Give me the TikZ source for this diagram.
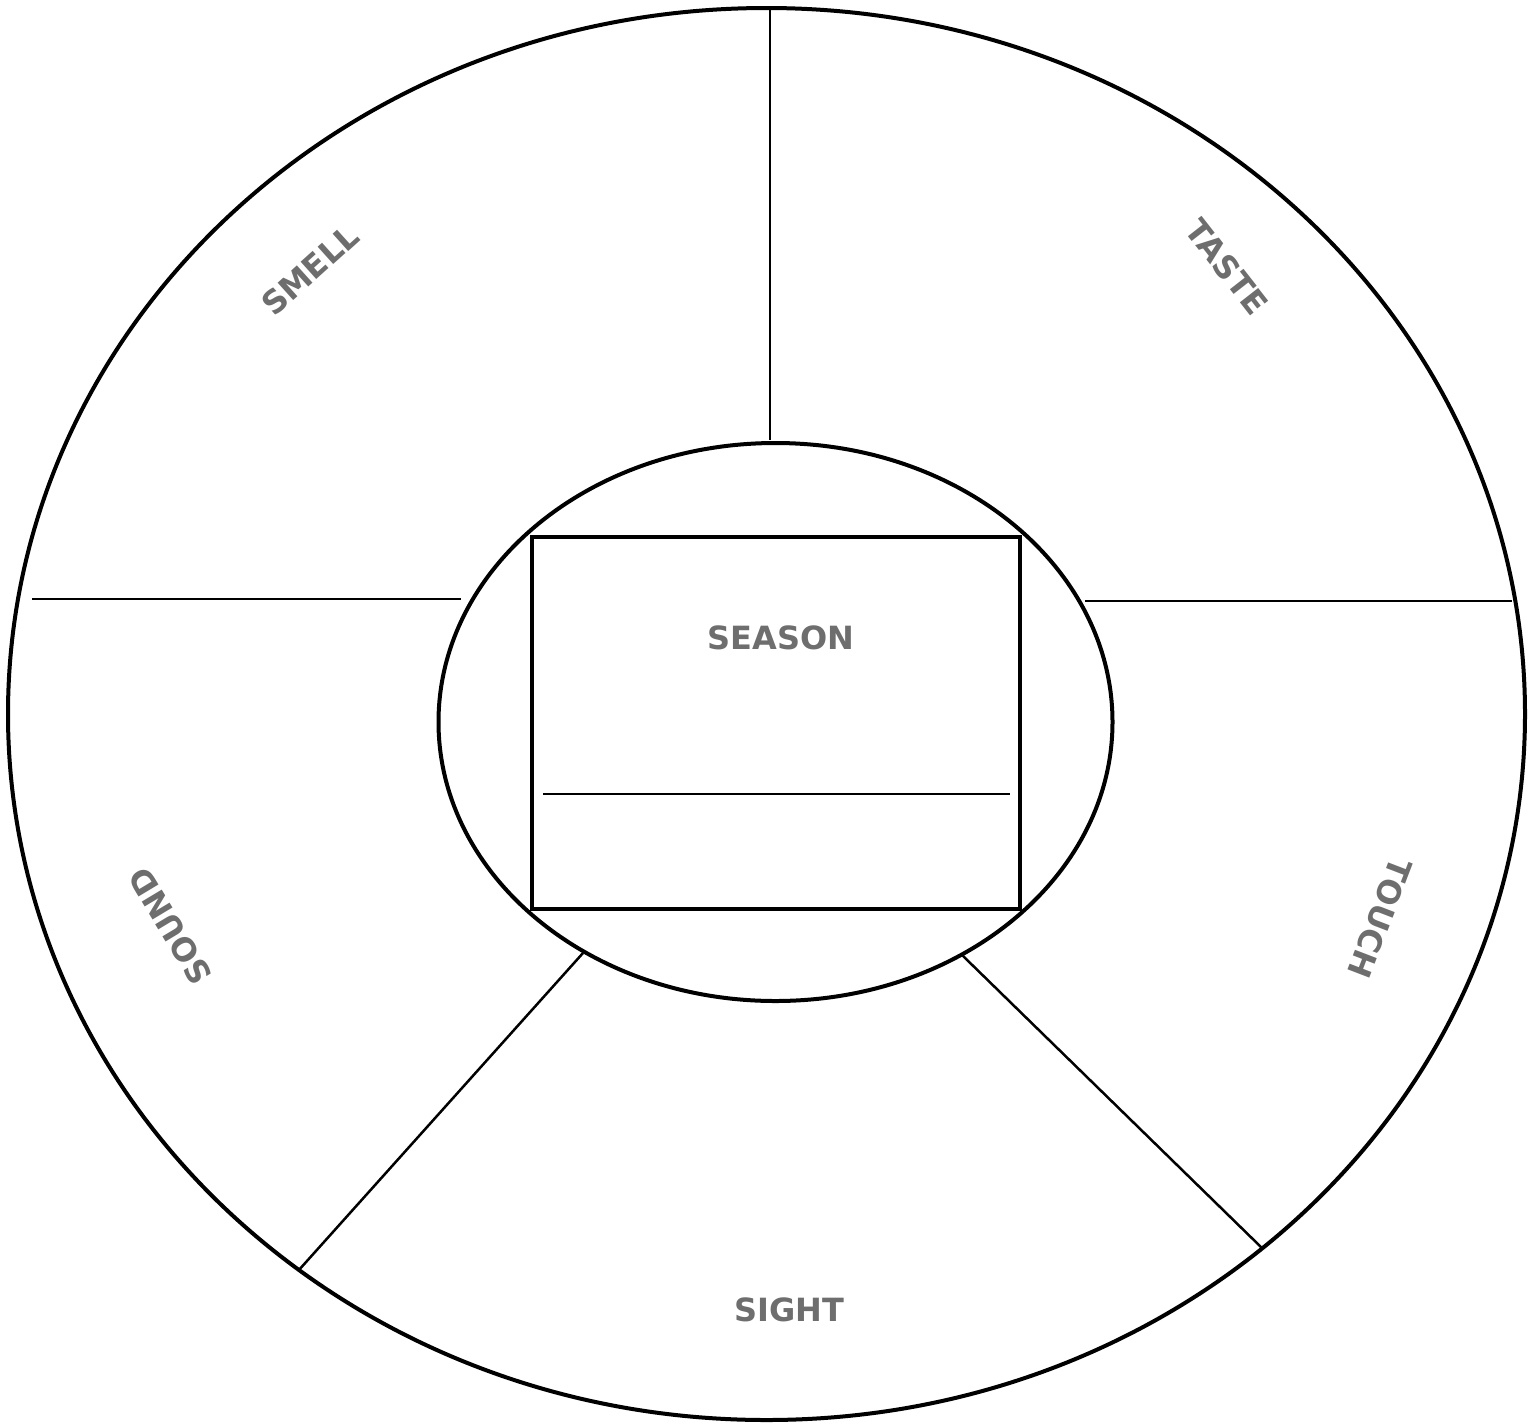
\documentclass[tikz,border=0pt]{standalone}
\usepackage{fontspec}
\setmainfont{DejaVu Sans}
\definecolor{labelgray}{HTML}{6E6E6E}
\tikzset{
  lbl/.style={font=\fontsize{32}{38}\selectfont\bfseries, text=labelgray, inner sep=0pt},
  thick line/.style={line width=4pt},
  thin line/.style={line width=2.5pt},
}
\begin{document}
\begin{tikzpicture}[x=1pt,y=-1pt]
\useasboundingbox (0,0) rectangle (1533,1425);
% outer and inner ellipses
\draw[thick line] (766.5,714) ellipse [x radius=758.5, y radius=706];
\draw[thick line] (775.5,722) ellipse [x radius=337, y radius=279];
% season box
\draw[thick line] (532,537) rectangle (1020,909);
\coordinate (b1) at (543,794);
\coordinate (b2) at (1010,794);
\draw[thin line] (b1) -- (b2);
% dividers
\coordinate (t1) at (770,10);   \coordinate (t2) at (770,440);
\coordinate (l1) at (32,599);   \coordinate (l2) at (461,599);
\coordinate (r1) at (1085,601); \coordinate (r2) at (1512,601);
\coordinate (ll1) at (583,953); \coordinate (ll2) at (298,1271);
\coordinate (lr1) at (962,955); \coordinate (lr2) at (1262,1248);
\draw[thin line] (t1) -- (t2);
\draw[thin line] (l1) -- (l2);
\draw[thin line] (r1) -- (r2);
\draw[thin line] (ll1) -- (ll2);
\draw[thin line] (lr1) -- (lr2);
% labels
\node[lbl] (season) at (781,638) {SEASON};
\node[lbl, rotate=42] (smell) at (310,270) {SMELL};
\node[lbl, rotate=-52] (taste) at (1227,267) {TASTE};
\node[lbl, rotate=121] (sound) at (170,926) {SOUND};
\node[lbl, rotate=-111] (touch) at (1380,918) {TOUCH};
\node[lbl] (sight) at (789,1310) {SIGHT};
\end{tikzpicture}
\end{document}
